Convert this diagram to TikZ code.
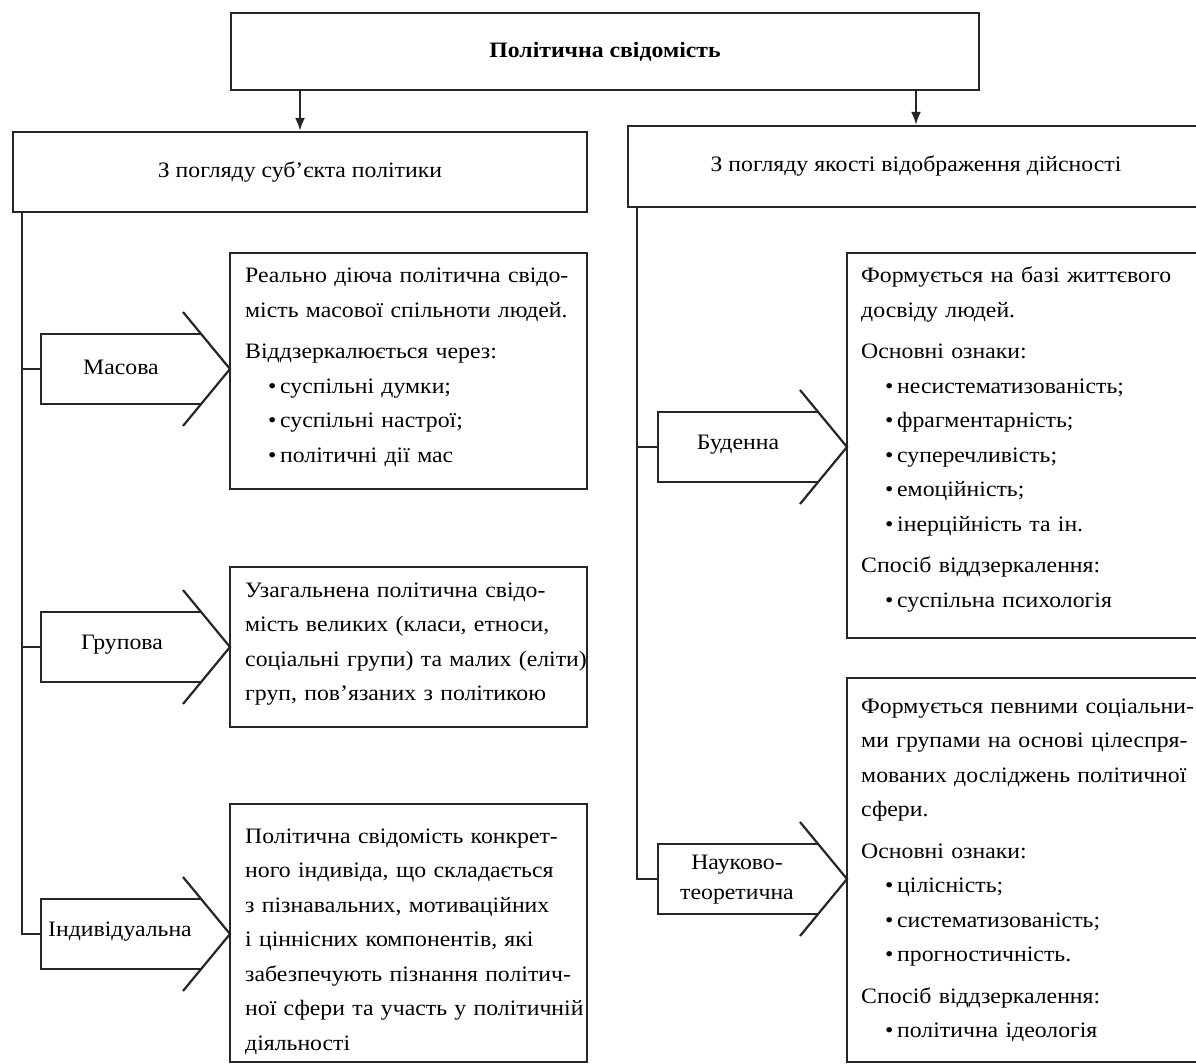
\documentclass[tikz,border=0pt]{standalone}
\usepackage{fontspec}
\setmainfont{Liberation Serif}[FakeStretch=1.08]
\usetikzlibrary{arrows.meta,calc}
\newcommand\pentashape[4]{% #1 left x, #2 back x, #3 tip x, #4 centre y
  \draw[ln] ({#2+(22/57)*(#3-#2)},#4-35) -- (#1,#4-35) -- (#1,#4+35) -- ({#2+(22/57)*(#3-#2)},#4+35);
  \draw[ln] (#2,#4-57) -- (#3,#4) -- (#2,#4+57);
}
\begin{document}
\begin{tikzpicture}[x=1pt,y=-1pt,
  ln/.style={line width=2.2pt, draw=black!85, line join=miter},
  boxn/.style={draw=black!85, line width=2.2pt, rectangle, inner sep=0pt, font=\fontsize{22}{30}\selectfont},
  body/.style={inner sep=0pt, anchor=base west, text width=420pt, align=left, font=\fontsize{22}{34.5}\selectfont},
  lbl/.style={inner sep=0pt, align=center, font=\fontsize{22}{30}\selectfont},
  arr/.style={ln, -{Latex[length=13pt,width=10pt]}}]
\useasboundingbox (0,0) rectangle (1196,1064);
\clip (0,0) rectangle (1196,1064);

% top and headers
\node[boxn, minimum width=748pt, minimum height=77pt] (top) at (605,51.5) {\textbf{Політична свідомість}};
\node[boxn, minimum width=574pt, minimum height=80pt] (lh) at (300,172) {З погляду суб’єкта політики};
\node[boxn, minimum width=576pt, minimum height=81pt] (rh) at (916,166.5) {З погляду якості відображення дійсності};
\draw[arr] (top.south -| lh.north) -- (lh.north);
\draw[arr] (top.south -| rh.north) -- (rh.north);

% detail boxes
\node[boxn, minimum width=357pt, minimum height=236pt] (mbox) at (408.5,371) {};
\node[boxn, minimum width=357pt, minimum height=160pt] (gbox) at (408.5,647) {};
\node[boxn, minimum width=357pt, minimum height=258pt] (ibox) at (408.5,933) {};
\node[boxn, minimum width=357pt, minimum height=385pt] (bbox) at (1025.5,445.5) {};
\node[boxn, minimum width=357pt, minimum height=384pt] (nbox) at (1025.5,870) {};

% texts
\node[body] (mtext) at (245,283) {Реально діюча політична свідо-\\
мість масової спільноти людей.\\[7pt]
Віддзеркалюється через:\\
\hspace*{23pt}•\,суспільні думки;\\
\hspace*{23pt}•\,суспільні настрої;\\
\hspace*{23pt}•\,політичні дії мас};

\node[body] (gtext) at (245,597) {Узагальнена політична свідо-\\
мість великих (класи, етноси,\\
соціальні групи) та малих (еліти)\\
груп, пов’язаних з політикою};

\node[body] (itext) at (245,843) {Політична свідомість конкрет-\\
ного індивіда, що складається\\
з пізнавальних, мотиваційних\\
і ціннісних компонентів, які\\
забезпечують пізнання політич-\\
ної сфери та участь у політичній\\
діяльності};

\node[body] (btext) at (861,283) {Формується на базі життєвого\\
досвіду людей.\\[7pt]
Основні ознаки:\\
\hspace*{24pt}•\,несистематизованість;\\
\hspace*{24pt}•\,фрагментарність;\\
\hspace*{24pt}•\,суперечливість;\\
\hspace*{24pt}•\,емоційність;\\
\hspace*{24pt}•\,інерційність та ін.\\[7pt]
Спосіб віддзеркалення:\\
\hspace*{24pt}•\,суспільна психологія};

\node[body] (ntext) at (861,713) {Формується певними соціальни-\\
ми групами на основі цілеспря-\\
мованих досліджень політичної\\
сфери.\\[7pt]
Основні ознаки:\\
\hspace*{24pt}•\,цілісність;\\
\hspace*{24pt}•\,систематизованість;\\
\hspace*{24pt}•\,прогностичність.\\[7pt]
Спосіб віддзеркалення:\\
\hspace*{24pt}•\,політична ідеологія};

% arrow-shaped labels
\pentashape{41}{183}{230}{369}
\pentashape{41}{183}{230}{647}
\pentashape{41}{183}{230}{934}
\pentashape{658}{800}{847}{447}
\pentashape{658}{800}{847}{879}
\node[lbl] (masova) at (121,367) {Масова};
\node[lbl] (grupova) at (122,645) {Групова};
\node[lbl] (indyv) at (120,932) {Індивідуальна};
\node[lbl] (budenna) at (738,445) {Буденна};
\node[lbl] (nauk) at (737,880) {Науково-\\теоретична};
\coordinate (masovaL) at (41,369);
\coordinate (grupovaL) at (41,647);
\coordinate (indyvL) at (41,934);
\coordinate (budennaL) at (658,447);
\coordinate (naukL) at (658,879);

% trunks
\coordinate (ltrunk) at ([xshift=10pt]lh.south west);
\coordinate (rtrunk) at ([xshift=10pt]rh.south west);
\draw[ln] (ltrunk) |- (indyvL);
\draw[ln] (ltrunk |- masovaL) -- (masovaL);
\draw[ln] (ltrunk |- grupovaL) -- (grupovaL);
\draw[ln] (rtrunk) |- (naukL);
\draw[ln] (rtrunk |- budennaL) -- (budennaL);
\end{tikzpicture}
\end{document}
